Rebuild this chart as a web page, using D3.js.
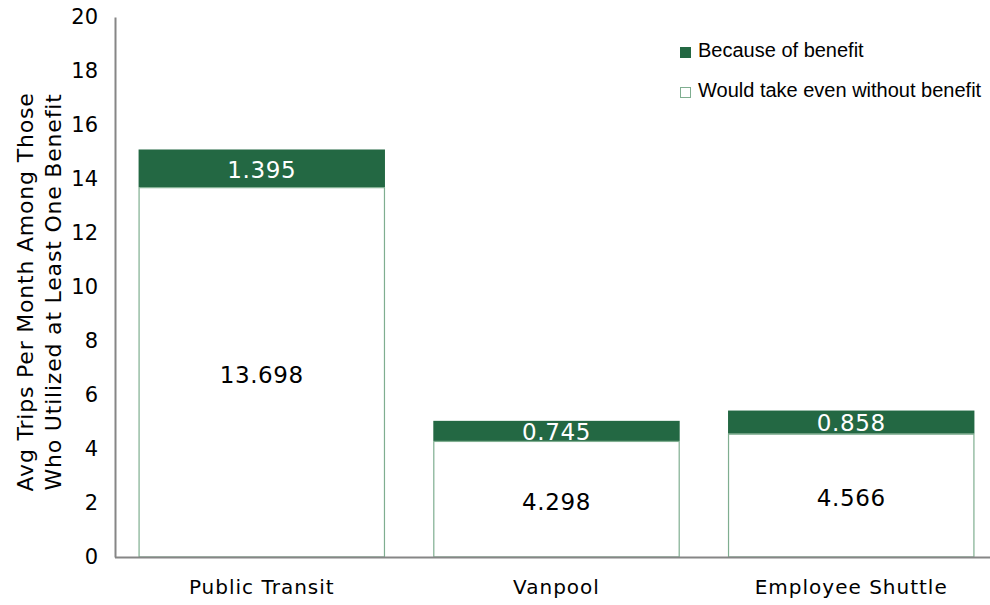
<!DOCTYPE html>
<html>
<head>
<meta charset="utf-8">
<script src="https://cdn.jsdelivr.net/npm/d3@7/dist/d3.min.js"></script>
<style>
  html, body { margin: 0; padding: 0; background: #fff; }
  svg { display: block; }
</style>
</head>
<body>
<svg id="chart" width="990" height="605"></svg>
<script>
// Trips per month by benefit type
const categories = ["Public Transit", "Vanpool", "Employee Shuttle"];
const withoutBenefit = [13.698, 4.298, 4.566];
const becauseOfBenefit = [1.395, 0.745, 0.858];
const yTicks = [0, 2, 4, 6, 8, 10, 12, 14, 16, 18, 20];
const seriesNames = ["Because of benefit", "Would take even without benefit"];

const green = "#236843";
const outline = "#7fae90";
const axisFont = "'DejaVu Sans', sans-serif";

const svg = d3.select("#chart");
const plot = { left: 115, right: 998, top: 17, bottom: 557 };

const x = d3.scaleBand()
  .domain(categories)
  .range([plot.left, plot.right])
  .paddingInner(0.164)
  .paddingOuter(0.08);

const y = d3.scaleLinear()
  .domain([0, 20])
  .range([plot.bottom, plot.top]);

const rows = categories.map((c, i) => ({
  cat: c,
  base: withoutBenefit[i],
  extra: becauseOfBenefit[i]
}));

// Upper segment (trips taken because of the benefit)
svg.append("g").selectAll("rect")
  .data(rows).join("rect")
  .attr("x", d => x(d.cat))
  .attr("width", x.bandwidth())
  .attr("y", d => y(d.base + d.extra))
  .attr("height", d => y(d.base) - y(d.base + d.extra))
  .attr("fill", green);

svg.append("g").selectAll("text")
  .data(rows).join("text")
  .attr("x", d => x(d.cat) + x.bandwidth() / 2)
  .attr("y", d => (y(d.base) + y(d.base + d.extra)) / 2)
  .attr("dy", "0.4em")
  .attr("text-anchor", "middle")
  .attr("fill", "#fff")
  .style("font-family", axisFont)
  .style("font-size", "23px")
  .style("letter-spacing", "0.6px")
  .text(d => d.extra.toFixed(3));

// Lower segment (trips that would be taken anyway), drawn over the labels above
svg.append("g").selectAll("rect")
  .data(rows).join("rect")
  .attr("x", d => x(d.cat) + 0.5)
  .attr("width", x.bandwidth() - 1)
  .attr("y", d => y(d.base) + 0.5)
  .attr("height", d => y(0) - y(d.base) - 0.5)
  .attr("fill", "#fff")
  .attr("stroke", outline)
  .attr("stroke-width", 1.2);

svg.append("g").selectAll("text")
  .data(rows).join("text")
  .attr("x", d => x(d.cat) + x.bandwidth() / 2)
  .attr("y", d => (y(0) + y(d.base)) / 2)
  .attr("dy", "0.48em")
  .attr("text-anchor", "middle")
  .attr("fill", "#000")
  .style("font-family", axisFont)
  .style("font-size", "23px")
  .style("letter-spacing", "0.6px")
  .text(d => d.base.toFixed(3));

// Y axis
const yAxis = svg.append("g")
  .attr("transform", `translate(${plot.left},0)`)
  .call(d3.axisLeft(y).tickValues(yTicks).tickSize(0).tickPadding(17).tickFormat(d3.format("d")));
yAxis.select(".domain").attr("stroke", "#868686").attr("stroke-width", 2);
yAxis.selectAll("text")
  .attr("fill", "#000")
  .style("font-family", axisFont)
  .style("font-size", "21px");

// X axis
const xAxis = svg.append("g")
  .attr("transform", `translate(0,${plot.bottom})`)
  .call(d3.axisBottom(x).tickSize(0).tickPadding(23));
xAxis.select(".domain")
  .attr("d", `M${plot.left},0.5H990`)
  .attr("stroke", "#868686").attr("stroke-width", 2);
xAxis.selectAll("text")
  .attr("fill", "#000")
  .attr("dy", "0.71em")
  .style("font-family", axisFont)
  .style("font-size", "20px")
  .style("letter-spacing", "1px");

// Y axis title (two lines)
const title = svg.append("text")
  .attr("transform", "translate(40,292) rotate(-90)")
  .attr("text-anchor", "middle")
  .attr("fill", "#000")
  .style("font-family", axisFont)
  .style("font-size", "22px")
  .style("letter-spacing", "0.8px");
title.append("tspan").attr("x", 0).attr("dy", "-0.3em").text("Avg Trips Per Month Among Those");
title.append("tspan").attr("x", 0).attr("dy", "1.25em").text("Who Utilized at Least One Benefit");

// Legend
const legend = svg.append("g").attr("transform", "translate(680,51)");
seriesNames.forEach((name, i) => {
  const g = legend.append("g").attr("transform", `translate(0,${i * 40})`);
  g.append("rect")
    .attr("x", 0.5).attr("y", -3.5)
    .attr("width", 10).attr("height", 10)
    .attr("fill", i === 0 ? green : "#fff")
    .attr("stroke", i === 0 ? green : outline)
    .attr("stroke-width", 1);
  g.append("text")
    .attr("x", 18).attr("y", 0)
    .attr("dy", "0.3em")
    .attr("fill", "#000")
    .style("font-family", "'Liberation Sans', Arial, sans-serif")
    .style("font-size", "20px")
    .text(name);
});
</script>
</body>
</html>
